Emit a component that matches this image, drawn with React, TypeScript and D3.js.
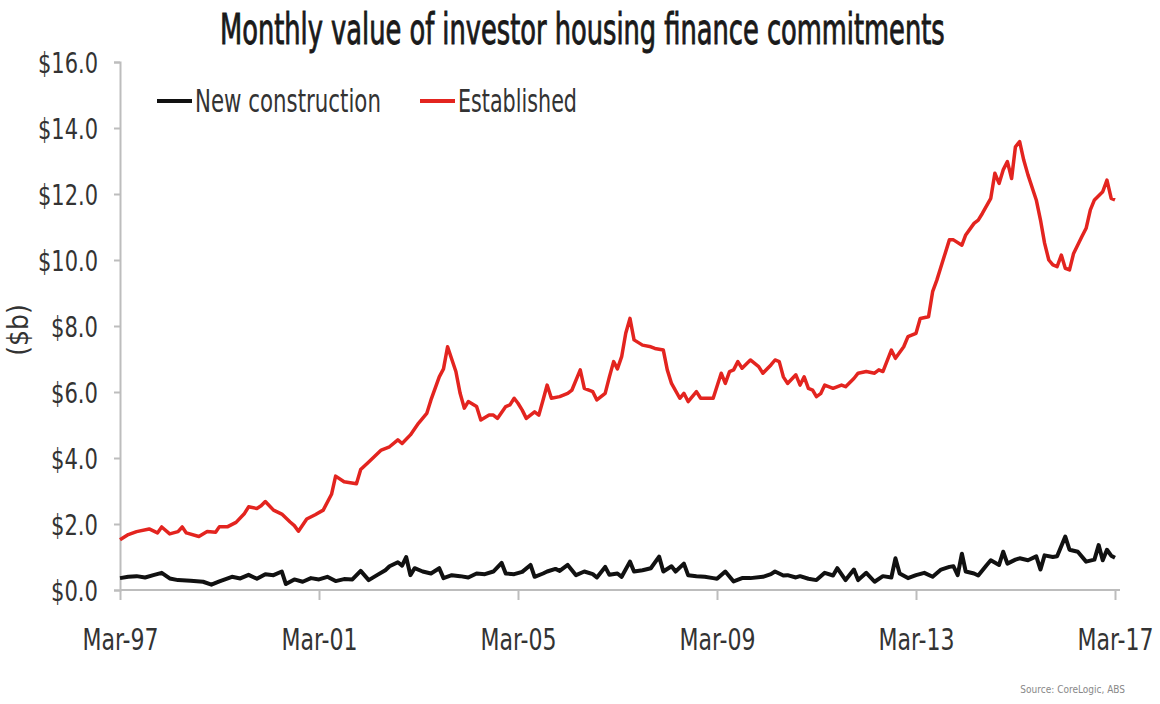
import React, { useEffect, useRef } from "react";
import * as d3 from "d3";

// Month offsets from Mar-1997 and values ($b)
const establishedMonths = [0,2,4,7,9,10,12,14,15,16,19,21,23,24,26,28,30,31,33,34,35,37,39,41,42,43,45,47,49,51,52,54,57,58,60,63,65,67,68,70,72,74,75,77,78,79,81,82,83,84,86,87,89,90,91,93,94,95,96,97,98,100,101,102,103,104,106,108,109,111,112,114,115,117,118,119,120,121,122,123,124,126,128,129,131,132,133,135,136,137,139,140,142,143,145,146,147,148,149,150,152,154,155,157,158,159,160,161,163,164,165,166,167,168,169,170,172,174,175,177,178,180,182,183,184,186,187,189,190,192,193,195,196,197,198,199,200,201,203,204,206,207,208,210,211,212,213,214,215,216,217,218,219,221,222,223,224,225,226,227,228,229,230,232,233,234,235,237,238,239,240];
const establishedValues = [1.52,1.68,1.77,1.85,1.73,1.91,1.70,1.77,1.91,1.73,1.62,1.77,1.75,1.92,1.92,2.05,2.32,2.52,2.47,2.55,2.68,2.42,2.30,2.06,1.95,1.78,2.15,2.28,2.42,2.90,3.45,3.28,3.22,3.65,3.88,4.24,4.34,4.55,4.44,4.70,5.05,5.35,5.76,6.46,6.70,7.37,6.62,5.96,5.51,5.71,5.56,5.15,5.30,5.30,5.20,5.56,5.61,5.81,5.66,5.45,5.20,5.40,5.30,5.76,6.21,5.81,5.86,5.96,6.06,6.67,6.11,6.01,5.76,5.96,6.46,6.92,6.70,7.07,7.78,8.23,7.58,7.42,7.37,7.32,7.27,6.67,6.26,5.81,5.96,5.71,6.01,5.81,5.81,5.81,6.57,6.26,6.62,6.67,6.92,6.72,6.97,6.77,6.57,6.82,6.97,6.92,6.46,6.26,6.52,6.21,6.46,6.11,6.06,5.86,5.95,6.21,6.11,6.21,6.16,6.41,6.57,6.62,6.57,6.67,6.62,7.27,7.02,7.37,7.68,7.78,8.23,8.28,9.04,9.39,9.80,10.20,10.61,10.61,10.45,10.76,11.11,11.21,11.41,11.87,12.63,12.32,12.73,12.98,12.47,13.43,13.59,13.03,12.58,11.82,11.21,10.51,10.00,9.85,9.80,10.15,9.75,9.70,10.20,10.71,10.96,11.52,11.82,12.07,12.42,11.87,11.82];

const newMonths = [0,2,4,6,8,10,12,14,17,20,22,24,27,29,31,33,35,37,39,40,42,44,46,48,50,52,54,56,58,60,62,64,65,67,68,69,70,71,73,75,77,78,80,82,84,86,88,90,92,93,95,97,99,100,102,103,105,106,108,110,112,114,115,117,118,120,121,123,124,126,128,130,131,133,134,136,137,139,141,143,144,146,148,150,152,155,157,158,160,161,163,164,166,168,170,172,173,175,177,178,180,182,184,186,187,188,190,192,194,196,198,200,201,202,203,204,206,207,209,210,212,213,214,216,217,219,221,222,223,225,226,228,229,231,233,235,236,237,238,239,240];
const newValues = [0.36,0.40,0.42,0.38,0.45,0.52,0.35,0.30,0.28,0.25,0.16,0.26,0.40,0.35,0.46,0.34,0.48,0.45,0.56,0.18,0.32,0.25,0.36,0.32,0.40,0.27,0.33,0.32,0.58,0.30,0.45,0.60,0.72,0.84,0.74,1.00,0.45,0.66,0.56,0.50,0.66,0.36,0.45,0.42,0.38,0.50,0.48,0.56,0.82,0.50,0.48,0.55,0.76,0.40,0.50,0.56,0.64,0.58,0.76,0.45,0.56,0.48,0.38,0.70,0.46,0.50,0.40,0.86,0.56,0.60,0.66,1.01,0.56,0.72,0.56,0.80,0.45,0.42,0.40,0.36,0.34,0.56,0.26,0.36,0.36,0.40,0.48,0.56,0.44,0.45,0.38,0.42,0.34,0.30,0.52,0.44,0.66,0.30,0.62,0.30,0.52,0.25,0.42,0.38,0.96,0.50,0.36,0.45,0.52,0.40,0.62,0.70,0.72,0.45,1.10,0.56,0.50,0.44,0.75,0.90,0.76,1.16,0.80,0.92,0.96,0.90,1.02,0.62,1.05,1.00,1.02,1.62,1.22,1.16,0.86,0.92,1.36,0.90,1.22,1.04,0.98];

const yTicks = [0, 2, 4, 6, 8, 10, 12, 14, 16];
const xTickYears = [1997, 2001, 2005, 2009, 2013, 2017];
const seriesNames = ["New construction", "Established"];
const seriesColors = ["#111111", "#e3241f"];

const FONT = "'Liberation Sans Narrow', 'DejaVu Sans Condensed', 'Open Sans', sans-serif";

function monthToDate(m: number) {
  return new Date(1997, 2 + m, 1);
}

// Squeeze a text horizontally so its width equals `width`, anchored at (x, y)
function fitText(node: SVGTextElement, width: number, x: number, y: number, anchor: string) {
  const len = node.getComputedTextLength();
  const s = len > 0 ? width / len : 1;
  node.setAttribute("x", "0");
  node.setAttribute("y", "0");
  node.setAttribute("text-anchor", anchor);
  node.setAttribute("transform", `translate(${x},${y}) scale(${s},1)`);
}

export default function App() {
  const ref = useRef<SVGSVGElement>(null);

  useEffect(() => {
    const svg = d3.select(ref.current);
    svg.selectAll("*").remove();

    const x = d3.scaleTime().domain([new Date(1997, 2, 1), new Date(2017, 2, 1)]).range([120, 1115]);
    const y = d3.scaleLinear().domain([0, 16]).range([590, 62]);

    // Title
    const title = svg.append("text")
      .attr("font-family", FONT).attr("font-size", 42).attr("fill", "#1a1a1a")
      .attr("stroke", "#1a1a1a").attr("stroke-width", 0.9)
      .text("Monthly value of investor housing finance commitments");
    fitText(title.node() as SVGTextElement, 725, 220, 44, "start");

    // Y axis
    const yAxis = d3.axisLeft(y).tickValues(yTicks).tickSize(6).tickPadding(22)
      .tickFormat((d: any) => "$" + d3.format(".1f")(d));
    const gy = svg.append("g").attr("transform", "translate(120,0)").call(yAxis);
    gy.select(".domain").attr("stroke", "#bdbdbd").attr("stroke-width", 2);
    gy.selectAll(".tick line").attr("stroke", "#bdbdbd").attr("stroke-width", 2);
    gy.selectAll<SVGTextElement, any>(".tick text")
      .attr("font-family", FONT).attr("font-size", 29).attr("fill", "#333").attr("dy", "0.36em")
      .each(function (this: SVGTextElement) {
        const w = (this.textContent || "").length * 13 - 5;
        fitText(this, w, -22, 0, "end");
      });

    // X axis
    const xAxis = d3.axisBottom(x).tickValues(xTickYears.map((yr) => new Date(yr, 2, 1))).tickSize(10).tickPadding(28)
      .tickFormat((d: any) => d3.timeFormat("%b-%y")(d));
    const gx = svg.append("g").attr("transform", "translate(0,590)").call(xAxis);
    gx.select(".domain").attr("stroke", "#bdbdbd").attr("stroke-width", 2).attr("d", "M120,0H1120");
    gx.selectAll(".tick line").attr("stroke", "#bdbdbd").attr("stroke-width", 2);
    gx.selectAll<SVGTextElement, any>(".tick text")
      .attr("font-family", FONT).attr("font-size", 31).attr("fill", "#333").attr("dy", "0.71em")
      .each(function (this: SVGTextElement) {
        fitText(this, 76, 0, 38, "middle");
      });

    // Y label
    svg.append("text")
      .attr("transform", "translate(28,330) rotate(-90)")
      .attr("text-anchor", "middle")
      .attr("font-family", FONT).attr("font-size", 28).attr("fill", "#333")
      .text("($b)");

    const line = d3.line<[number, number]>()
      .x((d) => x(monthToDate(d[0])))
      .y((d) => y(d[1]));

    const newData: [number, number][] = newMonths.map((m, i) => [m, newValues[i]]);
    const estData: [number, number][] = establishedMonths.map((m, i) => [m, establishedValues[i]]);

    svg.append("path").datum(estData).attr("d", line as any)
      .attr("fill", "none").attr("stroke", seriesColors[1]).attr("stroke-width", 3.5)
      .attr("stroke-linejoin", "round");
    svg.append("path").datum(newData).attr("d", line as any)
      .attr("fill", "none").attr("stroke", seriesColors[0]).attr("stroke-width", 4)
      .attr("stroke-linejoin", "round");

    // Legend
    const legend = [
      { x: 157, w: 186 },
      { x: 420, w: 119 },
    ];
    legend.forEach((l, i) => {
      svg.append("line").attr("x1", l.x).attr("x2", l.x + 35).attr("y1", 101).attr("y2", 101)
        .attr("stroke", seriesColors[i]).attr("stroke-width", 4);
      const t = svg.append("text")
        .attr("font-family", FONT).attr("font-size", 32).attr("fill", "#333")
        .text(seriesNames[i]);
      fitText(t.node() as SVGTextElement, l.w, l.x + 38, 112, "start");
    });

    // Source
    svg.append("text").attr("x", 1125).attr("y", 693).attr("text-anchor", "end")
      .attr("font-family", FONT).attr("font-size", 10).attr("fill", "#888")
      .text("Source: CoreLogic, ABS");
  }, []);

  return (
    <svg ref={ref} width={1160} height={704}
      style={{ position: "absolute", left: 0, top: 0, background: "#fff" }} />
  );
}
